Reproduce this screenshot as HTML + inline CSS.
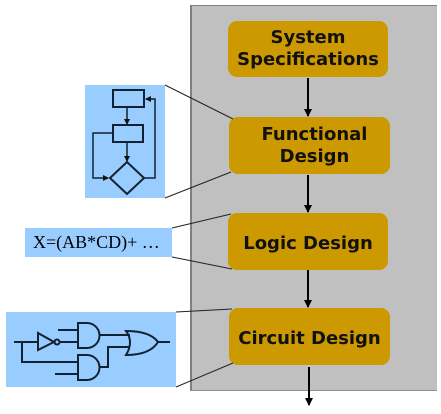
<!DOCTYPE html>
<html><head><style>
body{margin:0;width:441px;height:414px;background:#fff;overflow:hidden;position:relative;font-family:"DejaVu Sans",sans-serif}
.panel{position:absolute;left:190px;top:5px;width:245px;height:384px;background:#c0c0c0;border-left:2px solid #808080;border-top:1px solid #808080;border-bottom:1px solid #909090}
.b{position:absolute;background:#cc9900;border-radius:9px;display:flex;align-items:center;justify-content:center;text-align:center;font-weight:bold;font-size:18px;line-height:22px;color:#111}
.blue{position:absolute;background:#99ccff}
</style></head><body>
<div class="panel"></div>
<div class="b" style="left:228px;top:21px;width:160px;height:56px">System<br>Specifications</div>
<div class="b" style="left:229px;top:117px;width:161px;height:57px;padding-left:10px;box-sizing:border-box">Functional<br>Design</div>
<div class="b" style="left:228px;top:213px;width:160px;height:57px;padding-top:4px;box-sizing:border-box">Logic Design</div>
<div class="b" style="left:229px;top:308px;width:161px;height:57px;padding-top:4px;box-sizing:border-box">Circuit Design</div>
<div class="blue" style="left:85px;top:85px;width:80px;height:113px"></div>
<div class="blue" style="left:25px;top:228px;width:147px;height:29px;font-family:'Liberation Serif',serif;font-size:18px;line-height:29px;padding-left:8px;box-sizing:border-box">X=(AB*CD)+ …</div>
<div class="blue" style="left:6px;top:312px;width:170px;height:75px"></div>
<svg width="441" height="414" style="position:absolute;left:0;top:0">
<defs><marker id="a" markerWidth="8" markerHeight="8" refX="7" refY="4" orient="auto" markerUnits="userSpaceOnUse"><path d="M0,0L8,4L0,8z" fill="#000"/></marker>
<marker id="s" markerWidth="6" markerHeight="6" refX="5" refY="3" orient="auto" markerUnits="userSpaceOnUse"><path d="M0,0L6,3L0,6z" fill="#111"/></marker></defs>
<g stroke="#000" stroke-width="2">
<line x1="308" y1="78" x2="308" y2="116" marker-end="url(#a)"/>
<line x1="308" y1="175" x2="308" y2="212" marker-end="url(#a)"/>
<line x1="308" y1="270" x2="308" y2="307" marker-end="url(#a)"/>
<line x1="309" y1="367" x2="309" y2="405" marker-end="url(#a)"/>
</g>
<g stroke="#222" stroke-width="1">
<line x1="165" y1="85" x2="233" y2="119"/><line x1="165" y1="198" x2="231" y2="172"/>
<line x1="172" y1="228" x2="231" y2="214"/><line x1="172" y1="257" x2="232" y2="269"/>
<line x1="176" y1="312" x2="232" y2="309"/><line x1="176" y1="387" x2="233" y2="363"/>
</g>
<g stroke="#112233" stroke-width="1.5" fill="none">
<rect x="113" y="90" width="31" height="17" stroke-width="2"/>
<rect x="113" y="125" width="30" height="17" stroke-width="2"/>
<path d="M127,162L144,178L127,194L110,178Z" stroke-width="2"/>
<line x1="127" y1="107" x2="127" y2="124" marker-end="url(#s)"/>
<line x1="127" y1="142" x2="127" y2="161" marker-end="url(#s)"/>
<path d="M112,133H93V178H108" marker-end="url(#s)"/>
<path d="M144,178H155V99H146" marker-end="url(#s)"/>
</g>
<g stroke="#112233" stroke-width="2" fill="none">
<path d="M14,342H38"/><path d="M22,342V362H78"/>
<path d="M38,333L54,342L38,350Z"/><circle cx="57" cy="342" r="2.5"/>
<path d="M60,342H78M58,330H78"/>
<path d="M78,323H87A12,12 0 0 1 87,348H78Z"/>
<path d="M78,355H87A12,12 0 0 1 87,380H78Z"/>
<path d="M55,374H78"/>
<path d="M99,335H130M99,367H108V347H130"/>
<path d="M126,331Q150,331 158,342Q150,355 126,355Q134,342 126,331Z"/>
<path d="M158,342H170"/>
</g>
</svg>
</body></html>
